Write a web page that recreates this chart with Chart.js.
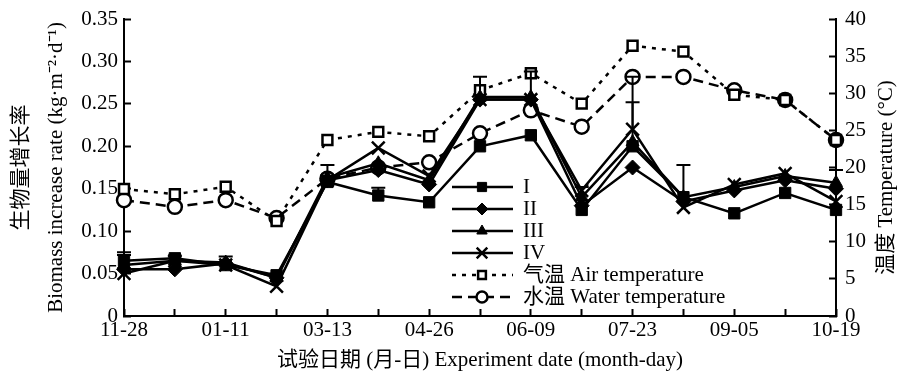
<!DOCTYPE html>
<html>
<head>
<meta charset="utf-8">
<script src="https://cdn.jsdelivr.net/npm/chart.js@4.4.1/dist/chart.umd.min.js"></script>
<style>
  body { margin: 0; background: #fff; }
  canvas { display: block; }
</style>
</head>
<body>
<canvas id="myChart" width="902" height="371"></canvas>
<script>
// datos
const fechas = ['11-28', '', '01-11', '', '03-13', '', '04-26', '', '06-09', '', '07-23', '', '09-05', '', '10-19'];
const serieI   = [0.065, 0.068, 0.060, 0.048, 0.158, 0.142, 0.134, 0.200, 0.213, 0.125, 0.200, 0.140, 0.121, 0.145, 0.125];
const serieII  = [0.055, 0.055, 0.062, 0.045, 0.160, 0.172, 0.155, 0.255, 0.255, 0.130, 0.175, 0.135, 0.148, 0.160, 0.150];
const serieIII = [0.060, 0.065, 0.063, 0.045, 0.163, 0.180, 0.160, 0.258, 0.258, 0.140, 0.205, 0.140, 0.152, 0.165, 0.157];
const serieIV  = [0.050, 0.065, 0.060, 0.035, 0.160, 0.198, 0.165, 0.255, 0.255, 0.148, 0.220, 0.128, 0.155, 0.168, 0.135];
const errorI   = [0.010, 0, 0, 0, 0, 0.009, 0, 0, 0, 0, 0, 0, 0, 0, 0];
const errorIII = [0.012, 0.005, 0.007, 0.005, 0.015, 0, 0, 0.024, 0.030, 0.012, 0.047, 0.038, 0, 0, 0.015];
const errorIV  = [0, 0, 0, 0, 0, 0, 0, 0, 0, 0, 0.062, 0, 0, 0, 0];
const tempAire = [17.1, 16.4, 17.4, 12.8, 23.7, 24.8, 24.2, 30.4, 32.7, 28.6, 36.4, 35.6, 29.8, 29.1, 23.7];
const tempAgua = [15.6, 14.7, 15.6, 13.2, 18.5, 20.0, 20.7, 24.6, 27.7, 25.5, 32.2, 32.2, 30.4, 29.1, 23.7];
const ticksIzq = ['0', '0.05', '0.10', '0.15', '0.20', '0.25', '0.30', '0.35'];
const ticksDer = ['0', '5', '10', '15', '20', '25', '30', '35', '40'];
const nombres = ['I', 'II', 'III', 'IV', '气温 Air temperature', '水温 Water temperature'];
const tituloX = '试验日期 (月-日) Experiment date (month-day)';
const tituloIzq = ['生物量增长率', 'Biomass increase rate (kg·m⁻²·d⁻¹)'];
const tituloDer = '温度 Temperature (°C)';

const fuente = '"Liberation Serif", "Noto Sans CJK SC", serif';
Chart.defaults.font.family = fuente;
Chart.defaults.font.size = 21;
Chart.defaults.color = '#000';

function serieBiomasa(label, data, estilo, radio, errores) {
  return {
    label: label,
    data: data,
    yAxisID: 'y',
    borderColor: '#000',
    backgroundColor: '#000',
    borderWidth: 2.5,
    pointStyle: estilo,
    pointRadius: radio,
    pointBackgroundColor: '#000',
    pointBorderColor: '#000',
    pointBorderWidth: estilo === 'crossRot' ? 2.5 : 1,
    tension: 0,
    errores: errores
  };
}

// barras de error solo hacia arriba, como en la figura
const barrasError = {
  id: 'barrasError',
  afterDatasetsDraw(chart) {
    const ctx = chart.ctx;
    const escala = chart.scales.y;
    ctx.save();
    ctx.strokeStyle = '#000';
    ctx.lineWidth = 2;
    chart.data.datasets.forEach((ds, i) => {
      if (!ds.errores) return;
      const meta = chart.getDatasetMeta(i);
      meta.data.forEach((pt, j) => {
        const e = ds.errores[j];
        if (!e) return;
        const arriba = escala.getPixelForValue(ds.data[j] + e);
        ctx.beginPath();
        ctx.moveTo(pt.x, arriba); ctx.lineTo(pt.x, pt.y);
        ctx.moveTo(pt.x - 7, arriba); ctx.lineTo(pt.x + 7, arriba);
        ctx.stroke();
      });
    });
    ctx.restore();
  }
};

const leyenda = {
  id: 'leyenda',
  afterDraw(chart) {
    const ctx = chart.ctx;
    ctx.save();
    chart.data.datasets.forEach((ds, i) => {
      const yy = 187 + i * 22;
      ctx.strokeStyle = '#000';
      ctx.lineWidth = ds.borderWidth;
      ctx.setLineDash(ds.borderDash || []);
      ctx.beginPath();
      ctx.moveTo(452, yy); ctx.lineTo(513, yy);
      ctx.stroke();
      ctx.setLineDash([]);
      ctx.fillStyle = ds.pointBackgroundColor;
      ctx.lineWidth = ds.pointBorderWidth;
      Chart.helpers.drawPoint(ctx, {
        pointStyle: ds.pointStyle,
        radius: ds.pointRadius - 1.5,
        rotation: 0,
        borderWidth: ds.pointBorderWidth
      }, 482, yy);
      ctx.fillStyle = '#000';
      ctx.font = '21px ' + fuente;
      ctx.textAlign = 'left';
      ctx.textBaseline = 'middle';
      ctx.fillText(nombres[i], 523, yy);
    });
    ctx.restore();
  }
};

const tituloDerecho = {
  id: 'tituloDerecho',
  afterDraw(chart) {
    const ctx = chart.ctx;
    const area = chart.chartArea;
    ctx.save();
    ctx.translate(886, (area.top + area.bottom) / 2 + 10);
    ctx.rotate(-Math.PI / 2);
    ctx.font = '21px ' + fuente;
    ctx.fillStyle = '#000';
    ctx.textAlign = 'center';
    ctx.textBaseline = 'middle';
    ctx.fillText(tituloDer, 0, 0);
    ctx.restore();
  }
};

const ejeComun = {
  grid: { drawOnChartArea: false, tickLength: -7, tickWidth: 2, color: '#000' },
  border: { color: '#000', width: 2 }
};

// ancho fijo de los ejes verticales y sin relleno extra arriba/abajo
function anchoFijo(ancho) {
  return s => { s.width = ancho; s.paddingTop = 0; s.paddingBottom = 0; };
}

const ctx_live = document.getElementById('myChart');
const myChart = new Chart(ctx_live, {
  type: 'line',
  data: {
    labels: fechas,
    datasets: [
      serieBiomasa(nombres[0], serieI, 'rect', 8, errorI),
      serieBiomasa(nombres[1], serieII, 'rectRot', 7.5, null),
      serieBiomasa(nombres[2], serieIII, 'triangle', 7.5, errorIII),
      serieBiomasa(nombres[3], serieIV, 'crossRot', 9, errorIV),
      {
        label: nombres[4],
        data: tempAire,
        yAxisID: 'y1',
        borderColor: '#000',
        borderWidth: 2.5,
        borderDash: [4, 6],
        pointStyle: 'rect',
        pointRadius: 7,
        pointBackgroundColor: '#fff',
        pointBorderColor: '#000',
        pointBorderWidth: 2.5,
        tension: 0
      },
      {
        label: nombres[5],
        data: tempAgua,
        yAxisID: 'y1',
        borderColor: '#000',
        borderWidth: 2.5,
        borderDash: [10, 6],
        pointStyle: 'circle',
        pointRadius: 7,
        pointBackgroundColor: '#fff',
        pointBorderColor: '#000',
        pointBorderWidth: 2.5,
        tension: 0
      }
    ]
  },
  options: {
    responsive: false,
    animation: false,
    devicePixelRatio: 1,
    layout: { padding: { top: 19, left: 0, right: 0, bottom: 0 } },
    plugins: {
      legend: { display: false },
      tooltip: { enabled: false }
    },
    scales: {
      x: {
        ...ejeComun,
        type: 'category',
        offset: false,
        ticks: { autoSkip: false, maxRotation: 0, padding: 9 },
        title: { display: true, text: tituloX, font: { size: 21, lineHeight: 1.0 }, padding: { top: 0, bottom: 0 } },
        afterFit: s => { s.height = 55; }
      },
      y: {
        ...ejeComun,
        position: 'left',
        min: 0,
        max: 0.35,
        ticks: { stepSize: 0.05, padding: 13, callback: (v, i) => ticksIzq[i] },
        title: { display: true, text: tituloIzq, font: { size: 21, lineHeight: 1.667 }, padding: { top: 4 } },
        afterFit: anchoFijo(124)
      },
      y1: {
        ...ejeComun,
        position: 'right',
        min: 0,
        max: 40,
        ticks: { stepSize: 5, padding: 16, callback: (v, i) => ticksDer[i] },
        afterFit: anchoFijo(66)
      }
    }
  },
  plugins: [barrasError, leyenda, tituloDerecho]
});
</script>
</body>
</html>
